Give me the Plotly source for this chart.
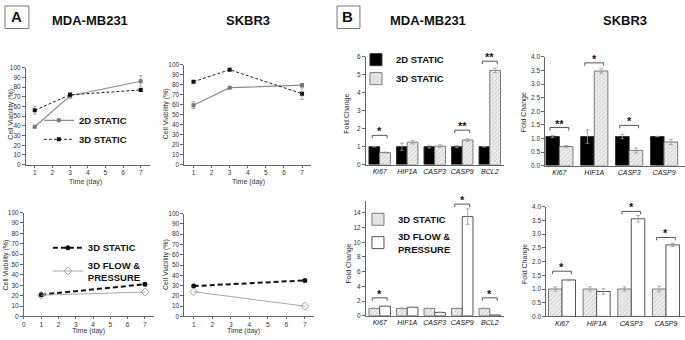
import plotly.graph_objects as go

FONT = "Arial, Liberation Sans, sans-serif"
W, H = 685, 340

# ---------------- data ----------------
days_top = [1, 3, 7]
mda_2d = [39, 71, 86]
mda_2d_err = [1, 3, 6]
mda_3d = [56, 72, 77]
mda_3d_err = [4, 2, 1]
sk_2d = [59.5, 77, 79.5]
sk_2d_err = [3.5, 1, 1.5]
sk_3d = [83, 95, 71]
sk_3d_err = [1, 1, 6]

days_bot = [1, 7]
mda_static_line = [21, 31]
mda_flow_line = [20.5, 23.5]
sk_static_line = [29.5, 35]
sk_flow_line = [24, 10]

genes_mda = ["Ki67", "HIF1A", "CASP3", "CASP9", "BCL2"]
genes_sk = ["Ki67", "HIF1A", "CASP3", "CASP9"]

mda_fc_2d = [1.0, 1.0, 1.0, 1.0, 1.0]
mda_fc_2d_err = [0.02, 0.2, 0.07, 0.06, 0.02]
mda_fc_3d = [0.67, 1.25, 1.03, 1.37, 5.25]
mda_fc_3d_err = [0.03, 0.1, 0.07, 0.07, 0.12]

sk_fc_2d = [1.07, 1.07, 1.07, 1.07]
sk_fc_2d_err = [0.04, 0.25, 0.08, 0.01]
sk_fc_3d = [0.70, 3.48, 0.56, 0.87]
sk_fc_3d_err = [0.04, 0.08, 0.09, 0.1]

mda_fc_static = [1.0, 1.0, 1.0, 1.0, 1.0]
mda_fc_static_err = [0.03, 0.05, 0.03, 0.05, 0.03]
mda_fc_flow = [1.3, 1.15, 0.45, 13.5, 0.1]
mda_fc_flow_err = [0.05, 0.05, 0.05, 1.05, 0.02]

sk_fc_static = [1.0, 1.0, 1.0, 1.0]
sk_fc_static_err = [0.08, 0.08, 0.08, 0.1]
sk_fc_flow = [1.33, 0.91, 3.56, 2.61]
sk_fc_flow_err = [0.03, 0.1, 0.12, 0.06]

# significance: gene index, bracket height, label
sig_mda_top_idx = [0, 3, 4]
sig_mda_top_h = [1.63, 1.92, 5.76]
sig_mda_top_lab = ["*", "**", "**"]
sig_sk_top_idx = [0, 1, 2]
sig_sk_top_h = [1.40, 3.78, 1.48]
sig_sk_top_lab = ["**", "*", "*"]
sig_mda_bot_idx = [0, 3, 4]
sig_mda_bot_h = [2.44, 15.2, 2.44]
sig_mda_bot_lab = ["*", "*", "*"]
sig_sk_bot_idx = [0, 2, 3]
sig_sk_bot_h = [1.65, 3.83, 2.88]
sig_sk_bot_lab = ["*", "*", "*"]


def px(x):
    return x / W


def py(y):
    return 1 - y / H


fig = go.Figure()

err_style = dict(type="data", color="#9a9a9a", thickness=0.8, width=2)

# ---------------- Panel A line charts ----------------
gray_line = dict(color="#8c8c8c", width=1.2)
black_dash = dict(color="#222", width=1, dash="3px,2px")

fig.add_trace(go.Scatter(x=days_top, y=mda_2d, error_y=dict(array=mda_2d_err, **err_style),
                         mode="lines+markers", line=gray_line,
                         marker=dict(symbol="square", size=4, color="#777"),
                         name="<b>2D STATIC</b>", legend="legend", xaxis="x", yaxis="y"))
fig.add_trace(go.Scatter(x=days_top, y=mda_3d, error_y=dict(array=mda_3d_err, **err_style),
                         mode="lines+markers", line=black_dash,
                         marker=dict(symbol="square", size=4, color="#111"),
                         name="<b>3D STATIC</b>", legend="legend", xaxis="x", yaxis="y"))
fig.add_trace(go.Scatter(x=days_top, y=sk_2d, error_y=dict(array=sk_2d_err, **err_style),
                         mode="lines+markers", line=gray_line,
                         marker=dict(symbol="square", size=4, color="#777"),
                         showlegend=False, xaxis="x2", yaxis="y2"))
fig.add_trace(go.Scatter(x=days_top, y=sk_3d, error_y=dict(array=sk_3d_err, **err_style),
                         mode="lines+markers", line=black_dash,
                         marker=dict(symbol="square", size=4, color="#111"),
                         showlegend=False, xaxis="x2", yaxis="y2"))

thick_dash = dict(color="#111", width=2, dash="5px,3px")
flow_line = dict(color="#a8a8a8", width=1)
fig.add_trace(go.Scatter(x=days_bot, y=mda_static_line, mode="lines+markers", line=thick_dash,
                         marker=dict(symbol="circle", size=5, color="#111"),
                         name="<b>3D STATIC</b>", legend="legend2", xaxis="x3", yaxis="y3"))
fig.add_trace(go.Scatter(x=days_bot, y=mda_flow_line, mode="lines+markers", line=flow_line,
                         marker=dict(symbol="diamond-open", size=6, color="#a0a0a0"),
                         name="<b>3D FLOW &<br>PRESSURE</b>", legend="legend2", xaxis="x3", yaxis="y3"))
fig.add_trace(go.Scatter(x=days_bot, y=sk_static_line, mode="lines+markers", line=thick_dash,
                         marker=dict(symbol="circle", size=5, color="#111"),
                         showlegend=False, xaxis="x4", yaxis="y4"))
fig.add_trace(go.Scatter(x=days_bot, y=sk_flow_line, mode="lines+markers", line=flow_line,
                         marker=dict(symbol="diamond-open", size=6, color="#a0a0a0"),
                         showlegend=False, xaxis="x4", yaxis="y4"))

# ---------------- Panel B bar charts ----------------
black_bar = dict(color="black", line=dict(color="#333", width=1))
hatch_bar = dict(color="#ececec",
                 pattern=dict(shape="/", fgcolor="#8c8c8c", bgcolor="#ededed", size=3, solidity=0.25),
                 line=dict(color="#7a7a7a", width=1))
white_bar = dict(color="white", line=dict(color="#555", width=1))

idx_mda = list(range(len(genes_mda)))
idx_sk = list(range(len(genes_sk)))

fig.add_trace(go.Bar(x=idx_mda, y=mda_fc_2d, error_y=dict(array=mda_fc_2d_err, **err_style),
                     marker=black_bar, name="<b>2D STATIC</b>", legend="legend3",
                     xaxis="x5", yaxis="y5"))
fig.add_trace(go.Bar(x=idx_mda, y=mda_fc_3d, error_y=dict(array=mda_fc_3d_err, **err_style),
                     marker=hatch_bar, name="<b>3D STATIC</b>", legend="legend3",
                     xaxis="x5", yaxis="y5"))
fig.add_trace(go.Bar(x=idx_sk, y=sk_fc_2d, error_y=dict(array=sk_fc_2d_err, **err_style),
                     marker=black_bar, showlegend=False, xaxis="x6", yaxis="y6"))
fig.add_trace(go.Bar(x=idx_sk, y=sk_fc_3d, error_y=dict(array=sk_fc_3d_err, **err_style),
                     marker=hatch_bar, showlegend=False, xaxis="x6", yaxis="y6"))
fig.add_trace(go.Bar(x=idx_mda, y=mda_fc_static, error_y=dict(array=mda_fc_static_err, **err_style),
                     marker=hatch_bar, name="<b>3D STATIC</b>", legend="legend4",
                     xaxis="x7", yaxis="y7"))
fig.add_trace(go.Bar(x=idx_mda, y=mda_fc_flow, error_y=dict(array=mda_fc_flow_err, **err_style),
                     marker=white_bar, name="<b>3D FLOW &<br>PRESSURE</b>", legend="legend4",
                     xaxis="x7", yaxis="y7"))
fig.add_trace(go.Bar(x=idx_sk, y=sk_fc_static, error_y=dict(array=sk_fc_static_err, **err_style),
                     marker=hatch_bar, showlegend=False, xaxis="x8", yaxis="y8"))
fig.add_trace(go.Bar(x=idx_sk, y=sk_fc_flow, error_y=dict(array=sk_fc_flow_err, **err_style),
                     marker=white_bar, showlegend=False, xaxis="x8", yaxis="y8"))

# ---------------- axes ----------------
tickfont = dict(size=6.5, color="#333", family=FONT)
base = dict(showline=True, linecolor="#666", linewidth=1, ticks="outside", ticklen=3,
            tickcolor="#666", tickwidth=1, tickfont=tickfont, showgrid=False, zeroline=False)

panels = {
    1: dict(xd=(24, 148), yd=(65, 164), xr=[0.5, 7.5], yr=[0, 100]),
    2: dict(xd=(183, 310), yd=(62, 164), xr=[0.5, 7.5], yr=[0, 100]),
    3: dict(xd=(22, 152), yd=(213, 319), xr=[0, 7.5], yr=[0, 100]),
    4: dict(xd=(183, 313), yd=(214, 319), xr=[0.5, 7.5], yr=[0, 100]),
    5: dict(xd=(365, 503), yd=(54, 164), xr=[-0.5, 4.5], yr=[0, 6]),
    6: dict(xd=(545, 685), yd=(54, 165), xr=[-0.4, 3.6], yr=[0, 4]),
    7: dict(xd=(365, 503), yd=(201.3, 318.3), xr=[-0.5, 4.5], yr=[0, 15.6]),
    8: dict(xd=(546, 685), yd=(207, 319), xr=[-0.45, 3.55], yr=[0, 4]),
}

layout_axes = {}
for n, p in panels.items():
    xname = "xaxis" if n == 1 else f"xaxis{n}"
    yname = "yaxis" if n == 1 else f"yaxis{n}"
    xa = dict(base, domain=[px(p["xd"][0]), px(p["xd"][1])], range=p["xr"],
              anchor="y" if n == 1 else f"y{n}", ticklen=2)
    ya = dict(base, domain=[py(p["yd"][1]), py(p["yd"][0])], range=p["yr"],
              anchor="x" if n == 1 else f"x{n}")
    if n in (1, 2, 4):
        xa.update(tickvals=[1, 2, 3, 4, 5, 6, 7])
    elif n == 3:
        xa.update(tickvals=[0, 1, 2, 3, 4, 5, 6, 7])
    elif n in (5, 7):
        xa.update(tickvals=idx_mda, ticktext=[f"<i>{g}</i>" for g in genes_mda], ticks="",
                  tickfont=dict(size=7, color="#111", family=FONT))
    else:
        xa.update(tickvals=idx_sk, ticktext=[f"<i>{g}</i>" for g in genes_sk], ticks="",
                  tickfont=dict(size=7, color="#111", family=FONT))
    if n <= 4:
        ya.update(tickvals=list(range(0, 101, 10)))
    elif n == 5:
        ya.update(tickvals=[0, 1, 2, 3, 4, 5, 6])
    elif n == 7:
        ya.update(tickvals=[0, 2, 4, 6, 8, 10, 12, 14])
    else:
        ya.update(tickvals=[0, 0.5, 1, 1.5, 2, 2.5, 3, 3.5, 4], tickformat=".1f")
    layout_axes[xname] = xa
    layout_axes[yname] = ya

fig.update_layout(**layout_axes)

# ---------------- significance brackets ----------------
def add_sig(n, idxs, heights, labels):
    p = panels[n]
    unit_px = (p["yd"][1] - p["yd"][0]) / (p["yr"][1] - p["yr"][0])
    drop = 3.0 / unit_px
    xref = "x" if n == 1 else f"x{n}"
    yref = "y" if n == 1 else f"y{n}"
    for i, h, lab in zip(idxs, heights, labels):
        fig.add_shape(type="path",
                      path=f"M {i - 0.27},{h - drop} L {i - 0.27},{h} L {i + 0.27},{h} L {i + 0.27},{h - drop}",
                      xref=xref, yref=yref, line=dict(color="#555", width=1))
        fig.add_annotation(x=i, y=h, xref=xref, yref=yref, text=f"<b>{lab}</b>", showarrow=False,
                           yanchor="bottom", yshift=-4, font=dict(size=11, color="#111", family=FONT))


add_sig(5, sig_mda_top_idx, sig_mda_top_h, sig_mda_top_lab)
add_sig(6, sig_sk_top_idx, sig_sk_top_h, sig_sk_top_lab)
add_sig(7, sig_mda_bot_idx, sig_mda_bot_h, sig_mda_bot_lab)
add_sig(8, sig_sk_bot_idx, sig_sk_bot_h, sig_sk_bot_lab)

# ---------------- text annotations ----------------
def ann(x, y, text, size, bold=False, angle=0, color="#111", yanchor="middle"):
    fig.add_annotation(x=px(x), y=py(y), xref="paper", yref="paper",
                       text=f"<b>{text}</b>" if bold else text, showarrow=False,
                       textangle=angle, xanchor="center", yanchor=yanchor,
                       font=dict(size=size, color=color, family=FONT))


ann(88, 17, "MDA-MB231", 13, bold=True)
ann(247, 17, "SKBR3", 13, bold=True)
ann(427, 17, "MDA-MB231", 13, bold=True)
ann(625, 17, "SKBR3", 13, bold=True)

ann(15, 13, "A", 15, bold=True)
ann(347, 13, "B", 15, bold=True)
fig.add_shape(type="rect", xref="paper", yref="paper", x0=px(3), x1=px(27), y0=py(25), y1=py(2),
              line=dict(color="#777", width=1))
fig.add_shape(type="rect", xref="paper", yref="paper", x0=px(336), x1=px(359), y0=py(25), y1=py(2),
              line=dict(color="#777", width=1))

for (x, y) in [(9, 112), (164, 112), (4, 266), (164, 266)]:
    ann(x, y, "Cell Viability (%)", 7, angle=-90, color="#333")
for (x, y) in [(84, 182), (247, 182)]:
    ann(x, y, "Time (day)", 7, color="#333")
for (x, y) in [(87, 340), (242, 340)]:
    ann(x, y, "Time (day)", 7, color="#333", yanchor="bottom")
for (x, y) in [(346, 112), (523, 110), (348, 265), (524, 265)]:
    ann(x, y, "Fold Change", 7, angle=-90, color="#333")

# ---------------- legends ----------------
leg_base = dict(xanchor="left", yanchor="top", bgcolor="rgba(0,0,0,0)", borderwidth=0,
                font=dict(size=9.5, color="#111", family=FONT), itemwidth=30, tracegroupgap=0)
fig.update_layout(
    legend=dict(leg_base, x=px(37), y=py(104)),
    legend2=dict(leg_base, x=px(46), y=py(234)),
    legend3=dict(leg_base, x=px(355), y=py(42)),
    legend4=dict(leg_base, x=px(357), y=py(205)),
)

fig.update_layout(
    width=W, height=H, margin=dict(l=0, r=0, t=0, b=0),
    paper_bgcolor="white", plot_bgcolor="white",
    barmode="group", bargap=0.22, bargroupgap=0,
    font=dict(family=FONT),
)

fig.write_html("out.html", config={"displayModeBar": False},
               post_script="document.body.style.margin='0';document.body.style.padding='0';")
